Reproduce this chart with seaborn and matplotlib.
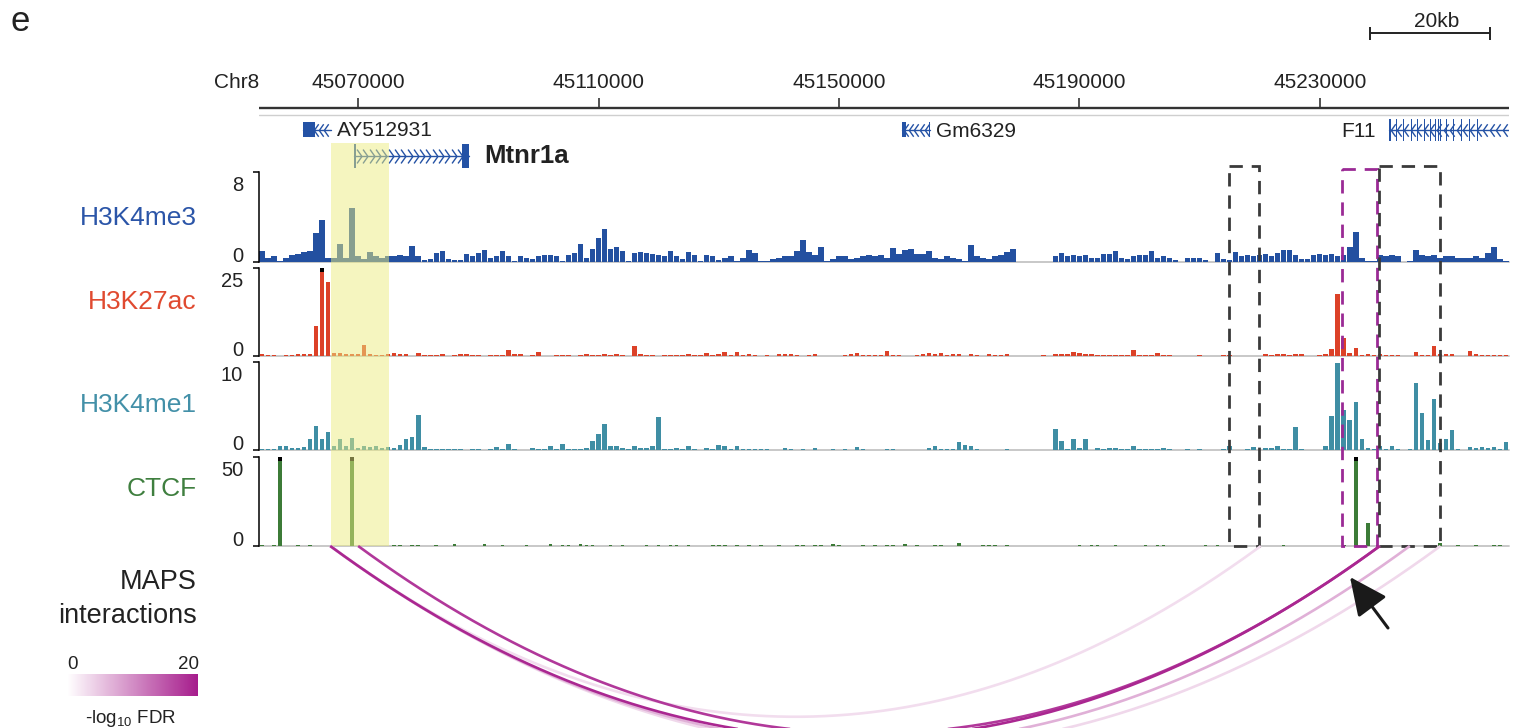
import numpy as np
import pandas as pd
import matplotlib
matplotlib.use('Agg')
import matplotlib.pyplot as plt
import seaborn as sns
from matplotlib.colors import LinearSegmentedColormap, Normalize
from matplotlib.patches import Rectangle
import matplotlib.cm as cm

# ---------------- data ----------------
REGION_START, REGION_END = 45053500, 45261500
BIN = 1000
CHROM = 'Chr8'
ruler_ticks = [45070000, 45110000, 45150000, 45190000, 45230000]

h3k4me3 = [1.0, 0.4, 0.5, 0.1, 0.4, 0.6, 0.7, 0.9, 1.0, 2.6,
           3.7, 0.4, 0.4, 1.6, 0.35, 4.8, 0.5, 0.3, 0.9, 0.5,
           0.4, 0.5, 0.5, 0.6, 0.5, 1.4, 0.5, 0.2, 0.3, 0.8,
           1.0, 0.3, 0.2, 0.2, 0.7, 0.5, 0.8, 1.05, 0.4, 0.5,
           1.0, 0.5, 0.1, 0.5, 0.4, 0.3, 0.5, 0.6, 0.6, 0.5,
           0.1, 0.6, 0.8, 1.6, 0.4, 1.2, 2.1, 2.9, 1.2, 1.3,
           1.0, 0.05, 0.8, 0.9, 0.8, 0.7, 0.6, 0.5, 1.0, 0.5,
           0.3, 0.9, 0.6, 0.1, 0.6, 0.55, 0.2, 0.35, 0.55, 0.1,
           0.4, 1.1, 0.8, 0.05, 0.05, 0.25, 0.4, 0.5, 0.5, 1.0,
           2.0, 0.9, 0.6, 1.3, 0.1, 0.3, 0.5, 0.5, 0.3, 0.4,
           0.5, 0.65, 0.5, 0.6, 0.4, 1.25, 0.7, 1.1, 1.2, 0.7,
           0.7, 1.0, 0.4, 0.3, 0.5, 0.4, 0.3, 0.05, 1.55, 0.5,
           0.4, 0.3, 0.5, 0.6, 0.9, 1.2, 0.0, 0.0, 0.0, 0.0,
           0.0, 0.0, 0.5, 0.8, 0.5, 0.6, 0.5, 0.6, 0.4, 0.4,
           0.7, 0.7, 1.0, 0.4, 0.3, 0.5, 0.6, 0.6, 0.95, 0.4,
           0.5, 0.4, 0.2, 0.0, 0.35, 0.4, 0.35, 0.2, 0.0, 0.8,
           0.3, 0.15, 0.9, 0.5, 0.6, 0.5, 0.6, 0.7, 0.5, 0.8,
           1.1, 1.1, 0.6, 0.3, 0.3, 0.6, 0.7, 0.6, 0.7, 0.5,
           0.6, 1.3, 2.7, 0.4, 0.1, 0.1, 0.6, 0.5, 0.6, 0.5,
           0.0, 0.1, 1.1, 0.6, 0.5, 0.6, 0.4, 0.5, 0.5, 0.4,
           0.4, 0.4, 0.5, 0.4, 0.8, 1.3, 0.3, 0.05]

h3k27ac = [0.5, 0.2, 0.2, 0.1, 0.4, 0.3, 0.5, 0.5, 0.6, 8.5,
           27.0, 21.0, 0.8, 0.8, 0.5, 0.6, 0.5, 3.0, 0.5, 0.4,
           0.2, 0.6, 0.8, 0.6, 0.5, 0.1, 0.8, 0.3, 0.2, 0.3,
           0.5, 0.1, 0.4, 0.5, 0.6, 0.3, 0.3, 0.1, 0.2, 0.3,
           0.4, 1.6, 0.5, 0.5, 0.1, 0.3, 1.0, 0.1, 0.1, 0.2,
           0.3, 0.3, 0.1, 0.3, 0.5, 0.3, 0.4, 0.5, 0.3, 0.5,
           0.4, 0.1, 2.7, 0.5, 0.3, 0.3, 0.1, 0.3, 0.3, 0.2,
           0.2, 0.5, 0.3, 0.3, 0.9, 0.3, 0.5, 1.1, 0.2, 1.2,
           0.2, 0.5, 0.2, 0.1, 0.4, 0.1, 0.5, 0.6, 0.6, 0.2,
           0.1, 0.3, 0.7, 0.1, 0.1, 0.0, 0.0, 0.2, 0.6, 0.9,
           0.3, 0.3, 0.3, 0.3, 1.3, 0.3, 0.3, 0.0, 0.0, 0.4,
           0.5, 0.9, 0.6, 0.9, 0.3, 0.6, 0.7, 0.1, 0.6, 0.3,
           0.1, 0.5, 0.3, 0.4, 0.6, 0.0, 0.0, 0.0, 0.0, 0.0,
           0.2, 0.0, 0.5, 0.6, 0.7, 1.2, 0.8, 0.5, 0.6, 0.3,
           0.3, 0.2, 0.3, 0.2, 0.3, 1.7, 0.2, 0.4, 0.3, 0.9,
           0.2, 0.2, 0.0, 0.1, 0.1, 0.0, 0.2, 0.0, 0.0, 0.0,
           0.3, 0.3, 0.1, 0.0, 0.1, 0.0, 0.0, 0.7, 0.3, 0.5,
           0.7, 0.4, 0.5, 0.7, 0.1, 0.1, 0.2, 0.5, 1.9, 17.6,
           5.0, 0.8, 2.4, 0.2, 0.5, 0.4, 0.5, 0.4, 0.3, 0.4,
           0.0, 0.1, 1.1, 0.3, 0.3, 2.7, 0.5, 0.7, 0.7, 0.1,
           0.1, 1.3, 0.6, 0.2, 0.3, 0.3, 0.3, 0.4]

h3k4me1 = [0.1, 0.1, 0.1, 0.4, 0.4, 0.2, 0.2, 0.3, 1.3, 2.7,
           1.2, 2.0, 0.5, 1.3, 0.4, 1.4, 0.2, 0.4, 0.3, 0.4,
           0.2, 0.3, 0.2, 0.6, 1.2, 1.5, 4.0, 0.3, 0.1, 0.1,
           0.1, 0.1, 0.1, 0.1, 0.0, 0.1, 0.1, 0.0, 0.1, 0.3,
           0.1, 0.7, 0.1, 0.0, 0.0, 0.2, 0.1, 0.1, 0.4, 0.1,
           0.7, 0.1, 0.1, 0.1, 0.2, 1.0, 1.8, 2.9, 0.5, 0.5,
           0.2, 0.1, 0.4, 0.2, 0.2, 0.4, 3.7, 0.1, 0.1, 0.2,
           0.1, 0.4, 0.1, 0.0, 0.2, 0.1, 0.55, 0.5, 0.1, 0.4,
           0.1, 0.1, 0.1, 0.1, 0.1, 0.0, 0.0, 0.2, 0.1, 0.0,
           0.1, 0.0, 0.2, 0.0, 0.0, 0.1, 0.0, 0.1, 0.0, 0.35,
           0.1, 0.0, 0.0, 0.0, 0.1, 0.1, 0.0, 0.0, 0.0, 0.0,
           0.0, 0.2, 0.4, 0.1, 0.1, 0.1, 0.9, 0.6, 0.4, 0.1,
           0.0, 0.0, 0.0, 0.0, 0.1, 0.0, 0.0, 0.0, 0.0, 0.0,
           0.0, 0.0, 2.4, 1.0, 0.1, 1.3, 0.2, 1.2, 0.0, 0.2,
           0.1, 0.2, 0.2, 0.1, 0.1, 0.45, 0.1, 0.1, 0.1, 0.1,
           0.2, 0.1, 0.0, 0.0, 0.1, 0.0, 0.1, 0.0, 0.0, 0.0,
           0.1, 0.4, 0.0, 0.0, 0.1, 0.3, 0.0, 0.2, 0.2, 0.4,
           0.1, 0.1, 2.6, 0.1, 0.0, 0.0, 0.0, 0.4, 3.9, 9.9,
           4.6, 3.4, 5.4, 1.2, 0.2, 0.1, 0.4, 0.1, 0.4, 0.1,
           0.0, 0.1, 7.6, 4.2, 1.1, 5.8, 0.8, 1.2, 2.3, 0.1,
           0.0, 0.3, 0.2, 0.3, 0.2, 0.3, 0.1, 0.9]

ctcf = [0.8, 0.2, 0.8, 58.0, 0.2, 0.2, 0.8, 0.2, 0.8, 0.2,
        0.2, 0.2, 0.2, 0.2, 0.2, 55.0, 0.2, 0.2, 0.2, 0.2,
        0.2, 0.2, 0.8, 0.8, 0.2, 0.8, 0.8, 0.2, 0.2, 0.8,
        0.2, 0.2, 1.2, 0.2, 0.2, 0.2, 0.2, 1.3, 0.2, 0.2,
        0.8, 0.2, 0.2, 0.2, 0.8, 0.2, 0.2, 0.2, 1.2, 0.2,
        0.8, 0.8, 0.2, 1.3, 0.8, 0.8, 0.2, 0.2, 0.8, 0.2,
        0.8, 0.2, 0.2, 0.2, 0.8, 0.2, 0.8, 0.2, 0.8, 0.8,
        0.2, 0.8, 0.2, 0.2, 0.2, 0.8, 0.8, 0.8, 0.2, 0.8,
        0.2, 0.8, 0.2, 0.8, 0.2, 0.2, 0.8, 0.2, 0.2, 0.8,
        0.8, 0.2, 0.8, 0.8, 0.2, 1.0, 0.8, 0.2, 0.2, 0.2,
        0.8, 0.2, 0.8, 0.2, 0.8, 0.8, 0.2, 1.2, 0.2, 0.8,
        0.2, 0.2, 0.8, 0.8, 0.2, 0.2, 1.5, 0.2, 0.2, 0.2,
        0.8, 0.8, 0.8, 0.2, 0.8, 0.1, 0.1, 0.1, 0.1, 0.1,
        0.1, 0.1, 0.2, 0.2, 0.2, 0.2, 0.8, 0.2, 0.8, 0.8,
        0.2, 0.2, 0.8, 0.2, 0.2, 0.2, 0.2, 0.8, 0.2, 0.8,
        0.8, 0.2, 0.2, 0.2, 0.2, 0.2, 0.2, 0.8, 0.2, 0.8,
        0.2, 0.2, 0.2, 0.2, 0.2, 0.2, 0.2, 0.2, 0.2, 0.2,
        0.8, 0.2, 0.2, 0.2, 0.2, 0.2, 0.2, 0.2, 0.2, 0.2,
        0.8, 0.2, 52.0, 0.2, 12.7, 0.2, 0.2, 0.2, 0.2, 0.2,
        0.2, 0.2, 0.2, 0.2, 0.2, 0.2, 1.5, 0.2, 0.2, 0.8,
        0.2, 0.2, 0.8, 0.2, 0.2, 0.8, 0.8, 0.2]

track_names = ['H3K4me3', 'H3K27ac', 'H3K4me1', 'CTCF']
track_values = [h3k4me3, h3k27ac, h3k4me1, ctcf]
track_max = [8, 25, 10, 50]

gene_names = ['AY512931', 'Mtnr1a', 'Gm6329', 'F11']
gene_start = [45060850, 45069350, 45160480, 45241550]
gene_end = [45065550, 45088460, 45165150, 45262500]
gene_strand = ['-', '+', '-', '-']
gene_exons = [
    [(45060850, 45062850), (45065430, 45065550)],
    [(45069350, 45069650), (45087300, 45088460)],
    [(45160480, 45161200), (45165030, 45165150)],
    [(45241550, 45241850), (45242650, 45242800), (45243900, 45244050),
     (45245220, 45245380), (45246220, 45246380), (45247380, 45247540),
     (45248380, 45248540), (45249210, 45249370), (45249630, 45249790),
     (45250050, 45250200), (45251040, 45251200), (45252200, 45252360),
     (45253540, 45253700), (45254870, 45255030), (45256200, 45256360)],
]

highlight_region = (45065510, 45075150)
box_starts = [45214860, 45233660, 45239810]
box_ends = [45219850, 45239480, 45249960]

arc_left = [45065350, 45065350, 45070000, 45065350, 45065350]
arc_right = [45220200, 45240000, 45240000, 45245000, 45250100]
arc_fdr = [3.0, 19.0, 17.5, 7.0, 3.5]
FDR_MAX = 20
scale_bar_kb = 20

# ---------------- style ----------------
W, H = 1515, 728
X0, X1 = 259, 1509
PX_PER_BP = (X1 - X0) / (REGION_END - REGION_START)
track_px = [(172, 262), (268, 356), (362, 450), (457, 546)]
track_colors = ['#2350a0', '#dc4128', '#3f8ea4', '#3c7b37']
track_shrink = [0.92, 0.75, 0.75, 0.6]
label_colors = ['#2b55a8', '#e04a30', '#4390a8', '#3f7f3f']
label_base = [225, 309, 411.5, 496]
gene_col = '#2452a5'
gene_y = [129.5, 155.5, 129.5, 129.5]
gene_h = [15, 24, 15, 22]
chev_step = [800, 1050, 900, 1100]
chev_ms = [9, 10, 9, 9]
box_colors = ['#3a3a3a', '#9a2a95', '#3a3a3a']
box_tops = [166, 169, 166]
TRACK_BOTTOM = 546
magenta = '#a61c8c'

sns.set_theme(style='white')
plt.rcParams['font.family'] = ['Liberation Sans', 'DejaVu Sans']
plt.rcParams['mathtext.fontset'] = 'custom'
plt.rcParams['mathtext.rm'] = 'Liberation Sans'
plt.rcParams['mathtext.it'] = 'Liberation Sans'

fig = plt.figure(figsize=(W / 100, H / 100), dpi=100)
fig.patch.set_facecolor('white')

n = len(h3k4me3)
centers = REGION_START + BIN * (np.arange(n) + 0.5)

def fpos(x0, y0, x1, y1):
    return [x0 / W, 1 - y1 / H, (x1 - x0) / W, (y1 - y0) / H]

# signal tracks
for k, (name, vals, ymax) in enumerate(zip(track_names, track_values, track_max)):
    top, bot = track_px[k]
    ax = fig.add_axes(fpos(X0, top, X1, bot))
    ax.set_zorder(1)
    ax.patch.set_alpha(0)
    vals = np.asarray(vals, dtype=float)
    df = pd.DataFrame({'pos': centers, 'signal': vals})
    sns.histplot(data=df, x='pos', weights='signal', binwidth=BIN,
                 binrange=(REGION_START, REGION_END), shrink=track_shrink[k],
                 stat='count', element='bars', fill=True, color=track_colors[k],
                 alpha=1, linewidth=0, edgecolor='none', ax=ax)
    over = vals > ymax
    cap = 0.045 * ymax
    if over.any():
        ax.bar(centers[over], cap, bottom=ymax - cap, width=track_shrink[k] * BIN,
               color='black', linewidth=0)
    ax.axhline(0, color='#c4c4c4', lw=1.3, zorder=0, clip_on=False)
    ax.set_xlim(REGION_START, REGION_END)
    ax.set_ylim(0, ymax)
    ax.set_xticks([])
    ax.set_yticks([0, ymax])
    ax.set_yticklabels([])
    ax.tick_params(axis='y', left=True, length=4, width=1.1, color='black',
                   direction='out', pad=1)
    ax.set_xlabel('')
    ax.set_ylabel('')
    for s in ['top', 'right', 'bottom']:
        ax.spines[s].set_visible(False)
    ax.spines['left'].set_color('black')
    ax.spines['left'].set_linewidth(1.1)

# overlay axes: genomic x, pixel y
ov = fig.add_axes([X0 / W, 0, (X1 - X0) / W, 1])
ov.set_zorder(3)
ov.set_xlim(REGION_START, REGION_END)
ov.set_ylim(H, 0)
ov.set_axis_off()

# ruler
ov.plot([REGION_START, REGION_END], [108, 108], color='#333333', lw=1.7,
        solid_capstyle='butt')
ov.vlines(ruler_ticks, 98, 108, color='#333333', lw=1.2)
for t in ruler_ticks:
    ov.text(t, 87.5, f'{t}', ha='center', va='baseline', fontsize=15,
            color='#222222')
ov.plot([REGION_START, REGION_END], [115, 115], color='#cfcfcf', lw=1.0)

# scale bar
sb0 = 45238300
sb1 = sb0 + scale_bar_kb * 1000
ov.plot([sb0, sb1], [33.3, 33.3], color='#222222', lw=1.4, solid_capstyle='butt')
ov.vlines([sb0, sb1], 26.5, 40, color='#222222', lw=1.4)

# genes
def chev_marker(strand):
    if strand == '+':
        return [(-0.35, 1), (0.35, 0), (-0.35, -1)]
    return [(0.35, 1), (-0.35, 0), (0.35, -1)]

for g, name in enumerate(gene_names):
    y = gene_y[g]
    s, e = gene_start[g], gene_end[g]
    ov.plot([s, min(e, REGION_END)], [y, y], color=gene_col, lw=1.0, zorder=2)
    ex_start = min(a for a, b in gene_exons[g])
    lo = ex_start + 600 if g != 1 else gene_exons[g][0][1] + 500
    hi = min(e, REGION_END) - 300
    xs = np.arange(lo, hi, chev_step[g])
    ov.plot(xs, np.full(len(xs), y), ls='none', marker=chev_marker(gene_strand[g]),
            ms=chev_ms[g], mec=gene_col, mfc='none', mew=1.0, zorder=2)
    for a, b in gene_exons[g]:
        hh = gene_h[g]
        ov.add_patch(Rectangle((a, y - hh / 2), b - a, hh, facecolor=gene_col,
                               edgecolor='none', zorder=3))

ov.text(gene_end[0] + 1000, 136.5, gene_names[0], ha='left', va='baseline',
        fontsize=15, color='#222222')
ov.text(gene_end[1] + 2500, 163.3, gene_names[1], ha='left', va='baseline',
        fontsize=18.5, fontweight='bold', color='#222222')
ov.text(gene_end[2] + 1000, 137, gene_names[2], ha='left', va='baseline',
        fontsize=15, color='#222222')
ov.text(gene_start[3] - 2200, 137, gene_names[3], ha='right', va='baseline',
        fontsize=15, color='#222222')

# highlight
hs, he = highlight_region
ov.add_patch(Rectangle((hs, 143), he - hs, TRACK_BOTTOM - 143, facecolor='#ecec80',
                       alpha=0.5, edgecolor='none', zorder=5))

# dashed boxes
for s, e, c, t in zip(box_starts, box_ends, box_colors, box_tops):
    ov.add_patch(Rectangle((s, t), e - s, TRACK_BOTTOM - t, fill=False,
                           edgecolor=c, lw=2.0, linestyle=(0, (4.8, 3.2)),
                           zorder=6))

# arcs
cmap = LinearSegmentedColormap.from_list('maps', ['#ffffff', magenta])
norm = Normalize(0, FDR_MAX)
order = np.argsort(arc_fdr)
for i in order:
    l, r = arc_left[i], arc_right[i]
    c = (l + r) / 2
    half = (r - l) / 2
    depth = 0.367 * half * PX_PER_BP
    xs = np.linspace(l, r, 400)
    ys = TRACK_BOTTOM + depth * (1 - ((xs - c) / half) ** 2)
    ov.plot(xs, ys, color=cmap(norm(arc_fdr[i])), lw=1.9, zorder=7,
            solid_capstyle='butt')

# figure-level text axes (pixel coordinates)
fa = fig.add_axes([0, 0, 1, 1])
fa.set_zorder(4)
fa.set_xlim(0, W)
fa.set_ylim(H, 0)
fa.set_axis_off()

fa.text(11, 31, 'e', fontsize=25, ha='left', va='baseline', color='#222222')
fa.text(259, 87.5, CHROM, fontsize=15, ha='right', va='baseline', color='#222222')
fa.text(1437, 27, f'{scale_bar_kb}kb', fontsize=15, ha='center', va='baseline',
        color='#222222')

for k, name in enumerate(track_names):
    top, bot = track_px[k]
    fa.text(197, label_base[k], name, fontsize=19, ha='right', va='baseline',
            color=label_colors[k])
    fa.text(243, top + 18.7, f'{track_max[k]}', fontsize=14.5, ha='right',
            va='baseline', color='#222222')
    fa.text(243, bot - 0.3, '0', fontsize=14.5, ha='right', va='baseline',
            color='#222222')

fa.text(197, 589, 'MAPS', fontsize=19.5, ha='right', va='baseline', color='#222222')
fa.text(197, 622.7, 'interactions', fontsize=19.5, ha='right', va='baseline',
        color='#222222')
fa.text(67.5, 669, '0', fontsize=13.5, ha='left', va='baseline', color='#222222')
fa.text(199, 669, f'{FDR_MAX}', fontsize=13.5, ha='right', va='baseline',
        color='#222222')
fa.text(131, 723, r'-log$_{10}$ FDR', fontsize=13.5, ha='center', va='baseline',
        color='#222222')

fa.annotate('', xy=(1350, 577), xytext=(1388, 628),
            arrowprops=dict(arrowstyle='-|>,head_length=0.9,head_width=0.42',
                            mutation_scale=26, lw=2.2, color='#1a1a1a',
                            shrinkA=0, shrinkB=0))

# colorbar
cax = fig.add_axes(fpos(67, 674, 198, 696))
cax.set_zorder(4)
cb = fig.colorbar(cm.ScalarMappable(norm=norm, cmap=cmap), cax=cax,
                  orientation='horizontal')
cb.outline.set_visible(False)
cb.set_ticks([])

fig.savefig('out.png', dpi=100)
